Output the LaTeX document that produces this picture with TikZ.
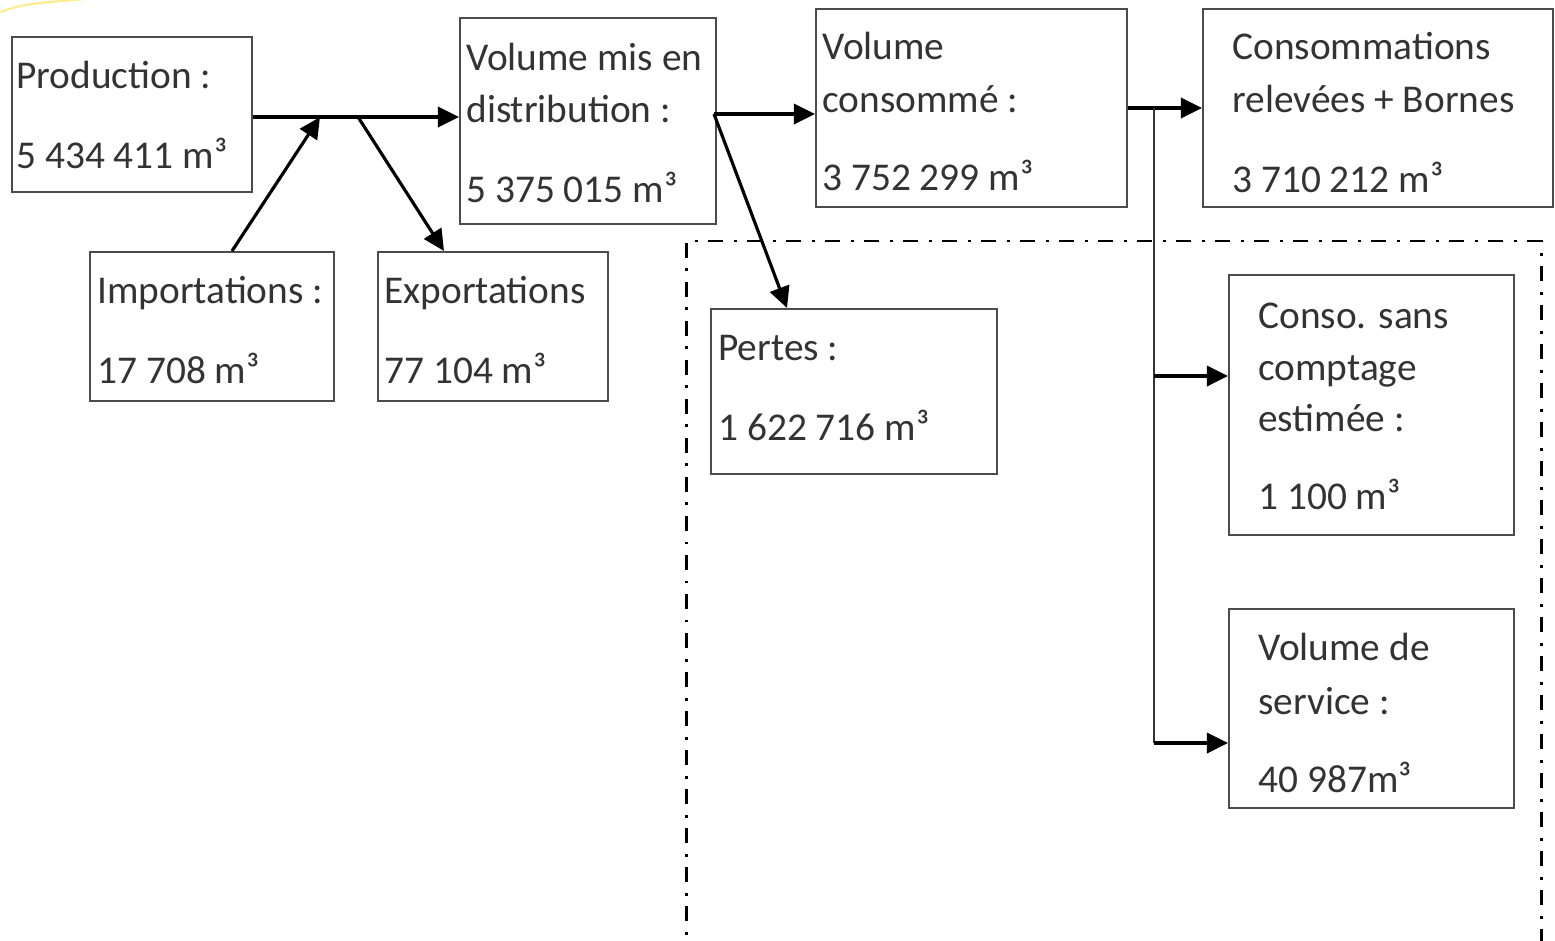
\documentclass[tikz,border=0pt]{standalone}
\usepackage{fontspec}
\setmainfont{Carlito}
\usetikzlibrary{arrows.meta,calc}
\begin{document}
\begin{tikzpicture}[x=0.02cm,y=-0.02cm,
  box/.style={draw=black!70, line width=1.15pt, inner sep=0pt},
  bx/.style 2 args={box, minimum width=#1*0.02cm, minimum height=#2*0.02cm},
  txt/.style={anchor=base west, inner sep=0pt, text=black!80, font=\fontsize{22.4}{26}\selectfont},
  arr/.style={draw=black, line width=1.8pt, -{Triangle[length=12pt,width=11.5pt]}},
  ln/.style={draw=black!80, line width=1.2pt},
  dashdot/.style={draw=black, line width=1.7pt, dash pattern=on 8.5pt off 6pt on 1.7pt off 6pt}]
\clip (0,0) rectangle (1555,940);
\fill[white] (0,0) rectangle (1555,940);
% stray yellow arc at the corner
\draw[yellow!75!orange, line width=1.2pt, opacity=0.45] (0,12) .. controls (25,4) .. (85,-1);
% boxes
\node[bx={240}{155}] (prod) at (132,114.5) {};
\node[bx={244}{149}] (imp) at (212,326.5) {};
\node[bx={230}{149}] (exp) at (493,326.5) {};
\node[bx={256}{206}] (dist) at (588,121) {};
\node[bx={311}{198}] (cons) at (971.5,108) {};
\node[bx={350}{198}] (rel) at (1378,108) {};
\node[bx={286}{165}] (pert) at (854,391.5) {};
\node[bx={285}{260}] (sans) at (1371.5,405) {};
\node[bx={285}{199}] (serv) at (1371.5,708.5) {};
% texts
\node[txt] (tprod1) at (16,88) {Production :};
\node[txt] (tprod2) at (16,168) {5 434 411 m³};
\node[txt] (timp1) at (97,303) {Importations :};
\node[txt] (timp2) at (97,383) {17 708 m³};
\node[txt] (texp1) at (384,303) {Exportations};
\node[txt] (texp2) at (384,383) {77 104 m³};
\node[txt] (tdist1) at (466,70) {Volume mis en};
\node[txt] (tdist2) at (466,122) {distribution :};
\node[txt] (tdist3) at (466,202) {5 375 015 m³};
\node[txt] (tcons1) at (822,59) {Volume};
\node[txt] (tcons2) at (822,112) {consommé :};
\node[txt] (tcons3) at (822,190) {3 752 299 m³};
\node[txt] (trel1) at (1232,59) {Consommations};
\node[txt] (trel2) at (1232,112) {relevées + Bornes};
\node[txt] (trel3) at (1232,192) {3 710 212 m³};
\node[txt] (tpert1) at (718,360) {Pertes :};
\node[txt] (tpert2) at (718,440) {1 622 716 m³};
\node[txt] (tsans1) at (1258,328) {Conso. sans};
\node[txt] (tsans2) at (1258,380) {comptage};
\node[txt] (tsans3) at (1258,431) {estimée :};
\node[txt] (tsans4) at (1258,509) {1 100 m³};
\node[txt] (tserv1) at (1258,660) {Volume de};
\node[txt] (tserv2) at (1258,714) {service :};
\node[txt] (tserv3) at (1258,792) {40 987m³};
% dash-dot frame
\coordinate (fbl) at (686,960);
\coordinate (ftl) at (686,241);
\coordinate (ftr) at (1541,241);
\coordinate (fbr) at (1541,960);
\draw[dashdot] (fbl) -- (ftl) -- (ftr) -- (fbr);
% connectors
\coordinate (j1) at (320,117);
\coordinate (j2) at (358,117);
\coordinate (j3) at (714,114);
\coordinate (j4) at (1154,108);
\coordinate (j5) at (1154,376);
\coordinate (j6) at (1154,743);
\draw[arr] (prod.east |- j1) -- (dist.west |- j1);
\draw[arr] ($(imp.north)+(20,0)$) -- (j1);
\draw[arr] (j2) -- ($(exp.north west)+(67,0)$);
\draw[arr] (j3) -- (cons.west |- j3);
\draw[arr] (j3) -- ($(pert.north west)+(77,0)$);
\draw[arr] (cons.east) -- (rel.west);
\draw[ln] (j4) -- (j6);
\draw[arr] (j5) -- (sans.west |- j5);
\draw[arr] (j6) -- (serv.west |- j6);
\end{tikzpicture}
\end{document}
